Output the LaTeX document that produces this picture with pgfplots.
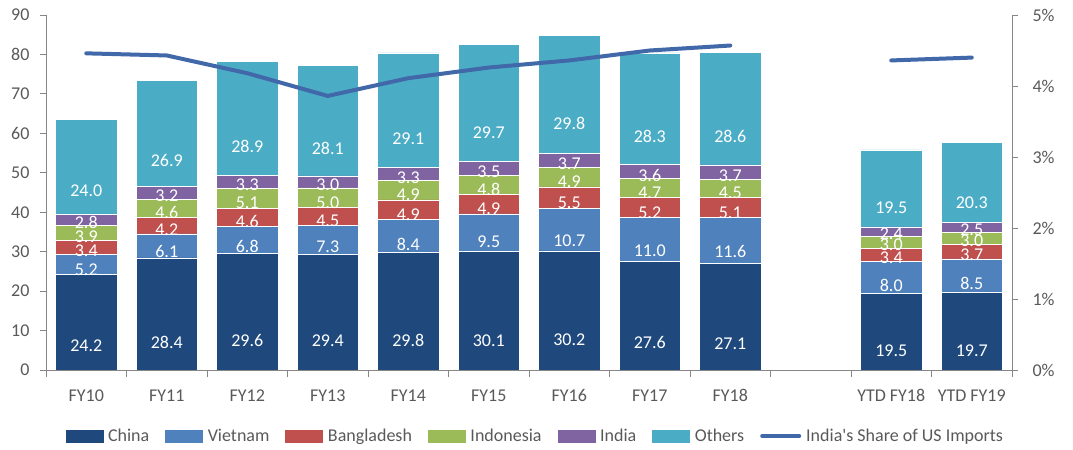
\documentclass[border=0pt]{standalone}
\usepackage{pgfplots}
\pgfplotsset{compat=1.18}
\usepackage{pgfplotstable}
\usepackage{fontspec}
\setmainfont{Carlito}[Ligatures=TeXOff]

\definecolor{cChina}{HTML}{1F497D}
\definecolor{cVietnam}{HTML}{4F81BD}
\definecolor{cBangladesh}{HTML}{C0504D}
\definecolor{cIndonesia}{HTML}{9BBB59}
\definecolor{cIndia}{HTML}{8064A2}
\definecolor{cOthers}{HTML}{4BACC6}
\definecolor{cShare}{HTML}{4169AA}
\definecolor{axisgrey}{HTML}{868686}
\definecolor{labelgrey}{HTML}{595959}

% US apparel imports by source (USD bn); slot 9 is left empty as a spacer
\pgfplotstableread{
X  China Vietnam Bangladesh Indonesia India Others
0  24.2  5.2     3.4        3.9       2.8   24.0
1  28.4  6.1     4.2        4.6       3.2   26.9
2  29.6  6.8     4.6        5.1       3.3   28.9
3  29.4  7.3     4.5        5.0       3.0   28.1
4  29.8  8.4     4.9        4.9       3.3   29.1
5  30.1  9.5     4.9        4.8       3.5   29.7
6  30.2  10.7    5.5        4.9       3.7   29.8
7  27.6  11.0    5.2        4.7       3.6   28.3
8  27.1  11.6    5.1        4.5       3.7   28.6
10 19.5  8.0     3.4        3.0       2.4   19.5
11 19.7  8.5     3.7        3.0       2.5   20.3
}\imports

\newcommand{\lblfont}{\fontsize{18bp}{20bp}\selectfont}

\pgfplotsset{
  segment/.style={
    fill=#1, draw=white, line width=0.5bp,
    legend image code/.code={\fill[#1] (0bp,-6bp) rectangle (37bp,6bp);},
  },
  shareline/.style={color=cShare, line width=4bp, line cap=round, line join=round, mark=none},
  sharelegend/.style={legend image code/.code={\draw[##1] (0bp,0bp) -- (37bp,0bp);}},
}

\begin{document}
\begin{tikzpicture}
\useasboundingbox (0,0) rectangle (1073bp,450bp);

\begin{axis}[
  at={(46bp,80bp)}, anchor=south west,
  width=966bp, height=355bp, scale only axis,
  ybar stacked, bar width=0.76,
  xmin=-0.5, xmax=11.5, ymin=0, ymax=90,
  ytick={0,10,...,90},
  xtick={0,1,2,3,4,5,6,7,8,10,11},
  xticklabels={FY10,FY11,FY12,FY13,FY14,FY15,FY16,FY17,FY18,YTD FY18,YTD FY19},
  minor xtick={-0.5,0.5,...,11.5},
  major x tick style={draw=none},
  axis y line*=left, axis x line*=bottom,
  axis line style={color=axisgrey, line width=0.8bp},
  tick align=outside,
  major tick length=6bp, minor tick length=7bp,
  tick style={color=axisgrey, line width=0.8bp},
  tick label style={font=\lblfont, text=labelgrey},
  /pgf/number format/assume math mode=true,
  xticklabel style={yshift=-10bp},
  yticklabel style={xshift=-7bp},
  point meta=explicit symbolic,
  nodes near coords={\pgfplotspointmeta},
  every node near coord/.append style={anchor=center, text=white, font=\lblfont, inner sep=0pt,
    yshift=-\pgfplotspointmeta*0.98611bp},
  legend columns=-1,
  legend style={at={(0.506,-0.186)}, anchor=center, draw=none, fill=none,
    font=\lblfont, text=labelgrey,
    /tikz/every odd column/.append style={column sep=4bp},
    /tikz/every even column/.append style={column sep=15bp},
    nodes={inner sep=1bp}},
]
\addplot[segment=cChina]      table[x=X,y=China,meta=China]{\imports};
\addplot[segment=cVietnam]    table[x=X,y=Vietnam,meta=Vietnam]{\imports};
\addplot[segment=cBangladesh] table[x=X,y=Bangladesh,meta=Bangladesh]{\imports};
\addplot[segment=cIndonesia]  table[x=X,y=Indonesia,meta=Indonesia]{\imports};
\addplot[segment=cIndia]      table[x=X,y=India,meta=India]{\imports};
\addplot[segment=cOthers]     table[x=X,y=Others,meta=Others]{\imports};
\addlegendimage{shareline, sharelegend}
\legend{China,Vietnam,Bangladesh,Indonesia,India,Others,India's Share of US Imports}
\end{axis}

\begin{axis}[
  at={(46bp,80bp)}, anchor=south west,
  width=966bp, height=355bp, scale only axis,
  xmin=-0.5, xmax=11.5, ymin=0, ymax=5,
  axis y line*=right, axis x line=none,
  axis line style={color=axisgrey, line width=0.8bp},
  tick align=outside, major tick length=6bp,
  tick style={color=axisgrey, line width=0.8bp},
  ytick={0,1,2,3,4,5},
  yticklabels={0\%,1\%,2\%,3\%,4\%,5\%},
  tick label style={font=\lblfont, text=labelgrey},
  yticklabel style={xshift=11bp},
]
% India's share of US apparel imports (%)
\addplot[shareline] coordinates {(0,4.46) (1,4.43) (2,4.18) (3,3.86) (4,4.11) (5,4.26) (6,4.36) (7,4.50) (8,4.57)};
\addplot[shareline] coordinates {(10,4.36) (11,4.40)};
\end{axis}
\end{tikzpicture}
\end{document}
